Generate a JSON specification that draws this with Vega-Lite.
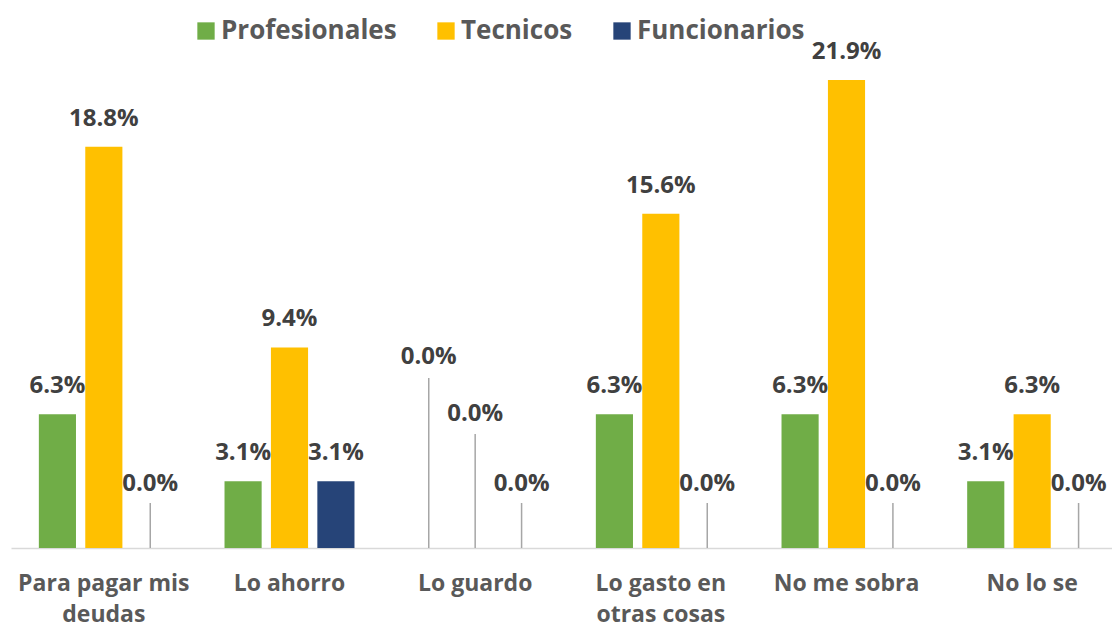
{
  "$schema": "https://vega.github.io/schema/vega-lite/v6.json",
  "width": 1114,
  "height": 535,
  "autosize": {"type": "none"},
  "padding": {"left": 11, "top": 13, "right": 0, "bottom": 80},
  "background": "white",
  "config": {
    "view": {"stroke": null},
    "font": "Open Sans"
  },
  "data": {
    "values": [
      {"categoria": "Para pagar mis deudas", "grupo": "Profesionales", "valor": 0.0625},
      {"categoria": "Para pagar mis deudas", "grupo": "Tecnicos", "valor": 0.1875},
      {"categoria": "Para pagar mis deudas", "grupo": "Funcionarios", "valor": 0},
      {"categoria": "Lo ahorro", "grupo": "Profesionales", "valor": 0.03125},
      {"categoria": "Lo ahorro", "grupo": "Tecnicos", "valor": 0.09375},
      {"categoria": "Lo ahorro", "grupo": "Funcionarios", "valor": 0.03125},
      {"categoria": "Lo guardo", "grupo": "Profesionales", "valor": 0},
      {"categoria": "Lo guardo", "grupo": "Tecnicos", "valor": 0},
      {"categoria": "Lo guardo", "grupo": "Funcionarios", "valor": 0},
      {"categoria": "Lo gasto en otras cosas", "grupo": "Profesionales", "valor": 0.0625},
      {"categoria": "Lo gasto en otras cosas", "grupo": "Tecnicos", "valor": 0.15625},
      {"categoria": "Lo gasto en otras cosas", "grupo": "Funcionarios", "valor": 0},
      {"categoria": "No me sobra", "grupo": "Profesionales", "valor": 0.0625},
      {"categoria": "No me sobra", "grupo": "Tecnicos", "valor": 0.21875},
      {"categoria": "No me sobra", "grupo": "Funcionarios", "valor": 0},
      {"categoria": "No lo se", "grupo": "Profesionales", "valor": 0.03125},
      {"categoria": "No lo se", "grupo": "Tecnicos", "valor": 0.0625},
      {"categoria": "No lo se", "grupo": "Funcionarios", "valor": 0}
    ]
  },
  "encoding": {
    "x": {
      "field": "categoria",
      "type": "nominal",
      "sort": null,
      "scale": {"paddingInner": 0.25, "paddingOuter": 0.125},
      "axis": {
        "title": null,
        "labelAngle": 0,
        "labelExpr": "datum.value == 'Para pagar mis deudas' ? ['Para pagar mis', 'deudas'] : datum.value == 'Lo gasto en otras cosas' ? ['Lo gasto en', 'otras cosas'] : datum.value",
        "labelFont": "Open Sans",
        "labelFontSize": 23,
        "labelFontWeight": "bold",
        "labelColor": "#595959",
        "labelLineHeight": 31,
        "labelPadding": 24,
        "labelBaseline": "top",
        "ticks": false,
        "domainColor": "#D9D9D9",
        "domainWidth": 1.5
      }
    },
    "xOffset": {
      "field": "grupo",
      "type": "nominal",
      "sort": ["Profesionales", "Tecnicos", "Funcionarios"],
      "scale": {"paddingInner": 0.2, "paddingOuter": 0.1}
    },
    "y": {
      "field": "valor",
      "type": "quantitative",
      "scale": {"domain": [0, 0.25], "nice": false},
      "axis": null
    }
  },
  "layer": [
    {
      "mark": {"type": "bar"},
      "encoding": {
        "color": {
          "field": "grupo",
          "type": "nominal",
          "sort": ["Profesionales", "Tecnicos", "Funcionarios"],
          "scale": {
            "domain": ["Profesionales", "Tecnicos", "Funcionarios"],
            "range": ["#70AD47", "#FFC000", "#264478"]
          },
          "legend": {
            "title": null,
            "orient": "none",
            "direction": "horizontal",
            "legendX": 182,
            "legendY": 5,
            "symbolType": "square",
            "symbolSize": 300,
            "symbolStrokeWidth": 0,
            "labelFont": "Open Sans",
            "labelFontSize": 26,
            "labelFontWeight": "bold",
            "labelColor": "#595959",
            "labelOffset": 2,
            "labelLimit": 400,
            "columnPadding": 36
          }
        }
      }
    },
    {
      "transform": [{"filter": "datum.valor > 0"}],
      "mark": {
        "type": "text",
        "baseline": "middle",
        "dy": -28,
        "font": "Open Sans",
        "fontSize": 24,
        "fontWeight": "bold",
        "color": "#404040"
      },
      "encoding": {
        "text": {"field": "valor", "type": "quantitative", "format": ".1%"}
      }
    },
    {
      "transform": [{"filter": "datum.valor == 0 && datum.grupo == 'Profesionales'"}],
      "mark": {"type": "rule", "y2Offset": -170, "color": "#A6A6A6", "strokeWidth": 1.5},
      "encoding": {"y2": {"field": "valor"}}
    },
    {
      "transform": [{"filter": "datum.valor == 0 && datum.grupo == 'Tecnicos'"}],
      "mark": {"type": "rule", "y2Offset": -114, "color": "#A6A6A6", "strokeWidth": 1.5},
      "encoding": {"y2": {"field": "valor"}}
    },
    {
      "transform": [{"filter": "datum.valor == 0 && datum.grupo == 'Funcionarios'"}],
      "mark": {"type": "rule", "y2Offset": -45, "color": "#A6A6A6", "strokeWidth": 1.5},
      "encoding": {"y2": {"field": "valor"}}
    },
    {
      "transform": [{"filter": "datum.valor == 0 && datum.grupo == 'Profesionales'"}],
      "mark": {"type": "text", "baseline": "middle", "dy": -191, "font": "Open Sans", "fontSize": 24, "fontWeight": "bold", "color": "#404040"},
      "encoding": {"text": {"field": "valor", "type": "quantitative", "format": ".1%"}}
    },
    {
      "transform": [{"filter": "datum.valor == 0 && datum.grupo == 'Tecnicos'"}],
      "mark": {"type": "text", "baseline": "middle", "dy": -134, "font": "Open Sans", "fontSize": 24, "fontWeight": "bold", "color": "#404040"},
      "encoding": {"text": {"field": "valor", "type": "quantitative", "format": ".1%"}}
    },
    {
      "transform": [{"filter": "datum.valor == 0 && datum.grupo == 'Funcionarios'"}],
      "mark": {"type": "text", "baseline": "middle", "dy": -64, "font": "Open Sans", "fontSize": 24, "fontWeight": "bold", "color": "#404040"},
      "encoding": {"text": {"field": "valor", "type": "quantitative", "format": ".1%"}}
    }
  ]
}
